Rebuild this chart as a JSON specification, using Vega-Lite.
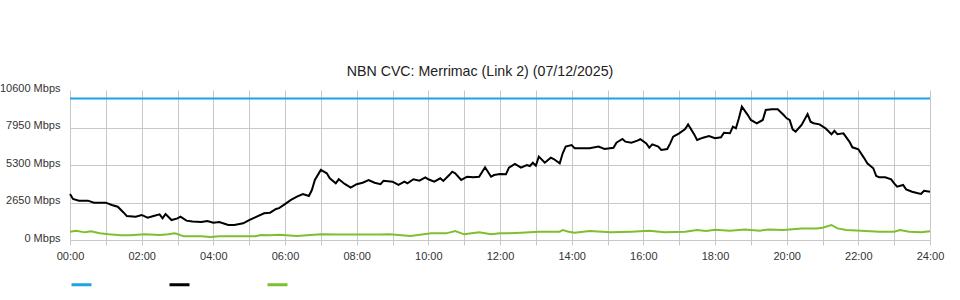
{
  "$schema": "https://vega.github.io/schema/vega-lite/v6.json",
  "autosize": "none",
  "width": 860,
  "height": 150,
  "padding": {"left": 70, "top": 90, "right": 30, "bottom": 60},
  "background": "white",
  "title": {
    "text": "NBN CVC: Merrimac (Link 2) (07/12/2025)",
    "font": "Liberation Sans",
    "fontSize": 14.2,
    "fontWeight": "normal",
    "color": "#222222",
    "anchor": "middle",
    "frame": "group",
    "dx": -20,
    "offset": 3
  },
  "config": {
    "view": {"stroke": null},
    "axis": {"labelFont": "Liberation Sans", "labelFontSize": 11, "labelColor": "#333333", "gridColor": "#c8c8c8", "gridWidth": 1, "domain": false}
  },
  "data": {
    "values": [
      {"s": "Capacity", "min": 0, "v": 10000},
      {"s": "Capacity", "min": 1440, "v": 10000},
      {"s": "Download", "min": 0, "v": 3250},
      {"s": "Download", "min": 5, "v": 2900},
      {"s": "Download", "min": 15, "v": 2780},
      {"s": "Download", "min": 30, "v": 2780},
      {"s": "Download", "min": 40, "v": 2640},
      {"s": "Download", "min": 60, "v": 2640},
      {"s": "Download", "min": 70, "v": 2470},
      {"s": "Download", "min": 80, "v": 2350},
      {"s": "Download", "min": 90, "v": 1930},
      {"s": "Download", "min": 95, "v": 1700},
      {"s": "Download", "min": 110, "v": 1650},
      {"s": "Download", "min": 120, "v": 1770},
      {"s": "Download", "min": 130, "v": 1580},
      {"s": "Download", "min": 140, "v": 1700},
      {"s": "Download", "min": 150, "v": 1815},
      {"s": "Download", "min": 155, "v": 1530},
      {"s": "Download", "min": 160, "v": 1840},
      {"s": "Download", "min": 170, "v": 1410},
      {"s": "Download", "min": 180, "v": 1530},
      {"s": "Download", "min": 185, "v": 1650},
      {"s": "Download", "min": 195, "v": 1370},
      {"s": "Download", "min": 205, "v": 1300},
      {"s": "Download", "min": 220, "v": 1270},
      {"s": "Download", "min": 230, "v": 1340},
      {"s": "Download", "min": 240, "v": 1225},
      {"s": "Download", "min": 250, "v": 1270},
      {"s": "Download", "min": 265, "v": 1060},
      {"s": "Download", "min": 275, "v": 1060},
      {"s": "Download", "min": 290, "v": 1180},
      {"s": "Download", "min": 300, "v": 1410},
      {"s": "Download", "min": 310, "v": 1600},
      {"s": "Download", "min": 325, "v": 1885},
      {"s": "Download", "min": 335, "v": 1930},
      {"s": "Download", "min": 345, "v": 2190},
      {"s": "Download", "min": 350, "v": 2250},
      {"s": "Download", "min": 360, "v": 2540},
      {"s": "Download", "min": 370, "v": 2830},
      {"s": "Download", "min": 380, "v": 3060},
      {"s": "Download", "min": 390, "v": 3250},
      {"s": "Download", "min": 400, "v": 3110},
      {"s": "Download", "min": 405, "v": 3530},
      {"s": "Download", "min": 410, "v": 4240},
      {"s": "Download", "min": 420, "v": 4950},
      {"s": "Download", "min": 430, "v": 4710},
      {"s": "Download", "min": 435, "v": 4360},
      {"s": "Download", "min": 445, "v": 4005},
      {"s": "Download", "min": 450, "v": 4290},
      {"s": "Download", "min": 460, "v": 3960},
      {"s": "Download", "min": 470, "v": 3700},
      {"s": "Download", "min": 480, "v": 3940},
      {"s": "Download", "min": 490, "v": 4050},
      {"s": "Download", "min": 500, "v": 4240},
      {"s": "Download", "min": 510, "v": 4050},
      {"s": "Download", "min": 520, "v": 3940},
      {"s": "Download", "min": 525, "v": 4190},
      {"s": "Download", "min": 540, "v": 4120},
      {"s": "Download", "min": 550, "v": 3890},
      {"s": "Download", "min": 560, "v": 4120},
      {"s": "Download", "min": 565, "v": 4000},
      {"s": "Download", "min": 575, "v": 4290},
      {"s": "Download", "min": 585, "v": 4190},
      {"s": "Download", "min": 595, "v": 4430},
      {"s": "Download", "min": 600, "v": 4290},
      {"s": "Download", "min": 610, "v": 4120},
      {"s": "Download", "min": 620, "v": 4360},
      {"s": "Download", "min": 625, "v": 4170},
      {"s": "Download", "min": 635, "v": 4590},
      {"s": "Download", "min": 640, "v": 4830},
      {"s": "Download", "min": 645, "v": 4710},
      {"s": "Download", "min": 655, "v": 4240},
      {"s": "Download", "min": 665, "v": 4470},
      {"s": "Download", "min": 675, "v": 4430},
      {"s": "Download", "min": 685, "v": 4470},
      {"s": "Download", "min": 695, "v": 5140},
      {"s": "Download", "min": 705, "v": 4470},
      {"s": "Download", "min": 710, "v": 4590},
      {"s": "Download", "min": 720, "v": 4660},
      {"s": "Download", "min": 730, "v": 4640},
      {"s": "Download", "min": 735, "v": 5110},
      {"s": "Download", "min": 745, "v": 5370},
      {"s": "Download", "min": 755, "v": 5110},
      {"s": "Download", "min": 765, "v": 5300},
      {"s": "Download", "min": 770, "v": 5230},
      {"s": "Download", "min": 775, "v": 5460},
      {"s": "Download", "min": 780, "v": 5250},
      {"s": "Download", "min": 785, "v": 5890},
      {"s": "Download", "min": 795, "v": 5460},
      {"s": "Download", "min": 805, "v": 5820},
      {"s": "Download", "min": 810, "v": 5720},
      {"s": "Download", "min": 820, "v": 5420},
      {"s": "Download", "min": 825, "v": 6130},
      {"s": "Download", "min": 830, "v": 6600},
      {"s": "Download", "min": 840, "v": 6710},
      {"s": "Download", "min": 845, "v": 6480},
      {"s": "Download", "min": 855, "v": 6480},
      {"s": "Download", "min": 870, "v": 6480},
      {"s": "Download", "min": 885, "v": 6600},
      {"s": "Download", "min": 895, "v": 6430},
      {"s": "Download", "min": 910, "v": 6520},
      {"s": "Download", "min": 915, "v": 6880},
      {"s": "Download", "min": 925, "v": 7140},
      {"s": "Download", "min": 930, "v": 6950},
      {"s": "Download", "min": 940, "v": 6880},
      {"s": "Download", "min": 950, "v": 7020},
      {"s": "Download", "min": 955, "v": 7120},
      {"s": "Download", "min": 965, "v": 6830},
      {"s": "Download", "min": 970, "v": 6520},
      {"s": "Download", "min": 975, "v": 6760},
      {"s": "Download", "min": 985, "v": 6600},
      {"s": "Download", "min": 990, "v": 6360},
      {"s": "Download", "min": 1000, "v": 6430},
      {"s": "Download", "min": 1005, "v": 6830},
      {"s": "Download", "min": 1010, "v": 7300},
      {"s": "Download", "min": 1020, "v": 7540},
      {"s": "Download", "min": 1030, "v": 7840},
      {"s": "Download", "min": 1035, "v": 8170},
      {"s": "Download", "min": 1045, "v": 7480},
      {"s": "Download", "min": 1050, "v": 7070},
      {"s": "Download", "min": 1060, "v": 7230},
      {"s": "Download", "min": 1070, "v": 7350},
      {"s": "Download", "min": 1080, "v": 7190},
      {"s": "Download", "min": 1090, "v": 7260},
      {"s": "Download", "min": 1095, "v": 7580},
      {"s": "Download", "min": 1105, "v": 7540},
      {"s": "Download", "min": 1110, "v": 8010},
      {"s": "Download", "min": 1115, "v": 7890},
      {"s": "Download", "min": 1120, "v": 8600},
      {"s": "Download", "min": 1125, "v": 9420},
      {"s": "Download", "min": 1135, "v": 8830},
      {"s": "Download", "min": 1140, "v": 8480},
      {"s": "Download", "min": 1150, "v": 8250},
      {"s": "Download", "min": 1160, "v": 8480},
      {"s": "Download", "min": 1165, "v": 9190},
      {"s": "Download", "min": 1175, "v": 9240},
      {"s": "Download", "min": 1185, "v": 9240},
      {"s": "Download", "min": 1195, "v": 8830},
      {"s": "Download", "min": 1200, "v": 8600},
      {"s": "Download", "min": 1205, "v": 8480},
      {"s": "Download", "min": 1210, "v": 7820},
      {"s": "Download", "min": 1215, "v": 7650},
      {"s": "Download", "min": 1225, "v": 8130},
      {"s": "Download", "min": 1235, "v": 8900},
      {"s": "Download", "min": 1240, "v": 8360},
      {"s": "Download", "min": 1245, "v": 8250},
      {"s": "Download", "min": 1255, "v": 8170},
      {"s": "Download", "min": 1265, "v": 7890},
      {"s": "Download", "min": 1275, "v": 7470},
      {"s": "Download", "min": 1280, "v": 7720},
      {"s": "Download", "min": 1285, "v": 7470},
      {"s": "Download", "min": 1295, "v": 7540},
      {"s": "Download", "min": 1305, "v": 6950},
      {"s": "Download", "min": 1310, "v": 6550},
      {"s": "Download", "min": 1320, "v": 6410},
      {"s": "Download", "min": 1330, "v": 5770},
      {"s": "Download", "min": 1335, "v": 5420},
      {"s": "Download", "min": 1345, "v": 5070},
      {"s": "Download", "min": 1350, "v": 4520},
      {"s": "Download", "min": 1355, "v": 4430},
      {"s": "Download", "min": 1365, "v": 4430},
      {"s": "Download", "min": 1375, "v": 4290},
      {"s": "Download", "min": 1380, "v": 4000},
      {"s": "Download", "min": 1385, "v": 3770},
      {"s": "Download", "min": 1395, "v": 3890},
      {"s": "Download", "min": 1400, "v": 3580},
      {"s": "Download", "min": 1410, "v": 3410},
      {"s": "Download", "min": 1420, "v": 3300},
      {"s": "Download", "min": 1425, "v": 3250},
      {"s": "Download", "min": 1430, "v": 3480},
      {"s": "Download", "min": 1440, "v": 3410},
      {"s": "Upload", "min": 0, "v": 590},
      {"s": "Upload", "min": 10, "v": 660},
      {"s": "Upload", "min": 25, "v": 540},
      {"s": "Upload", "min": 35, "v": 610},
      {"s": "Upload", "min": 50, "v": 470},
      {"s": "Upload", "min": 65, "v": 400},
      {"s": "Upload", "min": 85, "v": 330},
      {"s": "Upload", "min": 100, "v": 330},
      {"s": "Upload", "min": 125, "v": 400},
      {"s": "Upload", "min": 150, "v": 350},
      {"s": "Upload", "min": 165, "v": 400},
      {"s": "Upload", "min": 175, "v": 470},
      {"s": "Upload", "min": 180, "v": 420},
      {"s": "Upload", "min": 190, "v": 260},
      {"s": "Upload", "min": 220, "v": 260},
      {"s": "Upload", "min": 235, "v": 210},
      {"s": "Upload", "min": 250, "v": 260},
      {"s": "Upload", "min": 285, "v": 260},
      {"s": "Upload", "min": 310, "v": 260},
      {"s": "Upload", "min": 320, "v": 350},
      {"s": "Upload", "min": 335, "v": 330},
      {"s": "Upload", "min": 350, "v": 375},
      {"s": "Upload", "min": 380, "v": 280},
      {"s": "Upload", "min": 420, "v": 400},
      {"s": "Upload", "min": 450, "v": 380},
      {"s": "Upload", "min": 485, "v": 380},
      {"s": "Upload", "min": 520, "v": 380},
      {"s": "Upload", "min": 535, "v": 400},
      {"s": "Upload", "min": 570, "v": 280},
      {"s": "Upload", "min": 605, "v": 470},
      {"s": "Upload", "min": 630, "v": 470},
      {"s": "Upload", "min": 645, "v": 640},
      {"s": "Upload", "min": 660, "v": 400},
      {"s": "Upload", "min": 685, "v": 540},
      {"s": "Upload", "min": 705, "v": 400},
      {"s": "Upload", "min": 720, "v": 470},
      {"s": "Upload", "min": 735, "v": 470},
      {"s": "Upload", "min": 755, "v": 520},
      {"s": "Upload", "min": 785, "v": 590},
      {"s": "Upload", "min": 820, "v": 590},
      {"s": "Upload", "min": 825, "v": 710},
      {"s": "Upload", "min": 835, "v": 590},
      {"s": "Upload", "min": 845, "v": 520},
      {"s": "Upload", "min": 870, "v": 640},
      {"s": "Upload", "min": 905, "v": 540},
      {"s": "Upload", "min": 940, "v": 590},
      {"s": "Upload", "min": 970, "v": 660},
      {"s": "Upload", "min": 995, "v": 540},
      {"s": "Upload", "min": 1030, "v": 590},
      {"s": "Upload", "min": 1050, "v": 710},
      {"s": "Upload", "min": 1065, "v": 640},
      {"s": "Upload", "min": 1080, "v": 730},
      {"s": "Upload", "min": 1105, "v": 660},
      {"s": "Upload", "min": 1130, "v": 750},
      {"s": "Upload", "min": 1155, "v": 660},
      {"s": "Upload", "min": 1170, "v": 750},
      {"s": "Upload", "min": 1195, "v": 700},
      {"s": "Upload", "min": 1225, "v": 820},
      {"s": "Upload", "min": 1250, "v": 820},
      {"s": "Upload", "min": 1260, "v": 870},
      {"s": "Upload", "min": 1275, "v": 1060},
      {"s": "Upload", "min": 1285, "v": 820},
      {"s": "Upload", "min": 1300, "v": 700},
      {"s": "Upload", "min": 1325, "v": 660},
      {"s": "Upload", "min": 1355, "v": 590},
      {"s": "Upload", "min": 1380, "v": 590},
      {"s": "Upload", "min": 1390, "v": 700},
      {"s": "Upload", "min": 1405, "v": 590},
      {"s": "Upload", "min": 1425, "v": 540},
      {"s": "Upload", "min": 1440, "v": 620}
    ]
  },
  "mark": {"type": "line", "strokeWidth": 2, "interpolate": "linear"},
  "encoding": {
    "x": {
      "field": "min",
      "type": "quantitative",
      "scale": {"domain": [0, 1440], "nice": false, "zero": false},
      "axis": {
        "title": null,
        "values": [0, 60, 120, 180, 240, 300, 360, 420, 480, 540, 600, 660, 720, 780, 840, 900, 960, 1020, 1080, 1140, 1200, 1260, 1320, 1380, 1440],
        "labelExpr": "datum.value % 120 == 0 ? (datum.value < 600 ? '0' : '') + floor(datum.value / 60) + ':00' : ''",
        "ticks": true,
        "tickSize": 5,
        "tickColor": "#c8c8c8",
        "labelPadding": 5,
        "labelFlush": false,
        "labelOverlap": false
      }
    },
    "y": {
      "field": "v",
      "type": "quantitative",
      "scale": {"domain": [0, 10600], "nice": false},
      "axis": {
        "title": null,
        "values": [0, 2650, 5300, 7950, 10600],
        "labelExpr": "datum.value + ' Mbps'",
        "ticks": false,
        "labelPadding": 10,
        "labelOffset": -2,
        "gridOpacity": {"condition": {"test": "datum.value == 10600", "value": 0}, "value": 1}
      }
    },
    "color": {
      "field": "s",
      "type": "nominal",
      "scale": {"domain": ["Capacity", "Download", "Upload"], "range": ["#1ca3e3", "#000000", "#7dbf2f"]},
      "legend": {
        "title": null,
        "orient": "none",
        "legendX": 0,
        "legendY": 183,
        "direction": "horizontal",
        "symbolType": "stroke",
        "symbolSize": 400,
        "symbolStrokeWidth": 3,
        "labelExpr": "''",
        "labelOffset": 0,
        "columnPadding": 65
      }
    }
  }
}
